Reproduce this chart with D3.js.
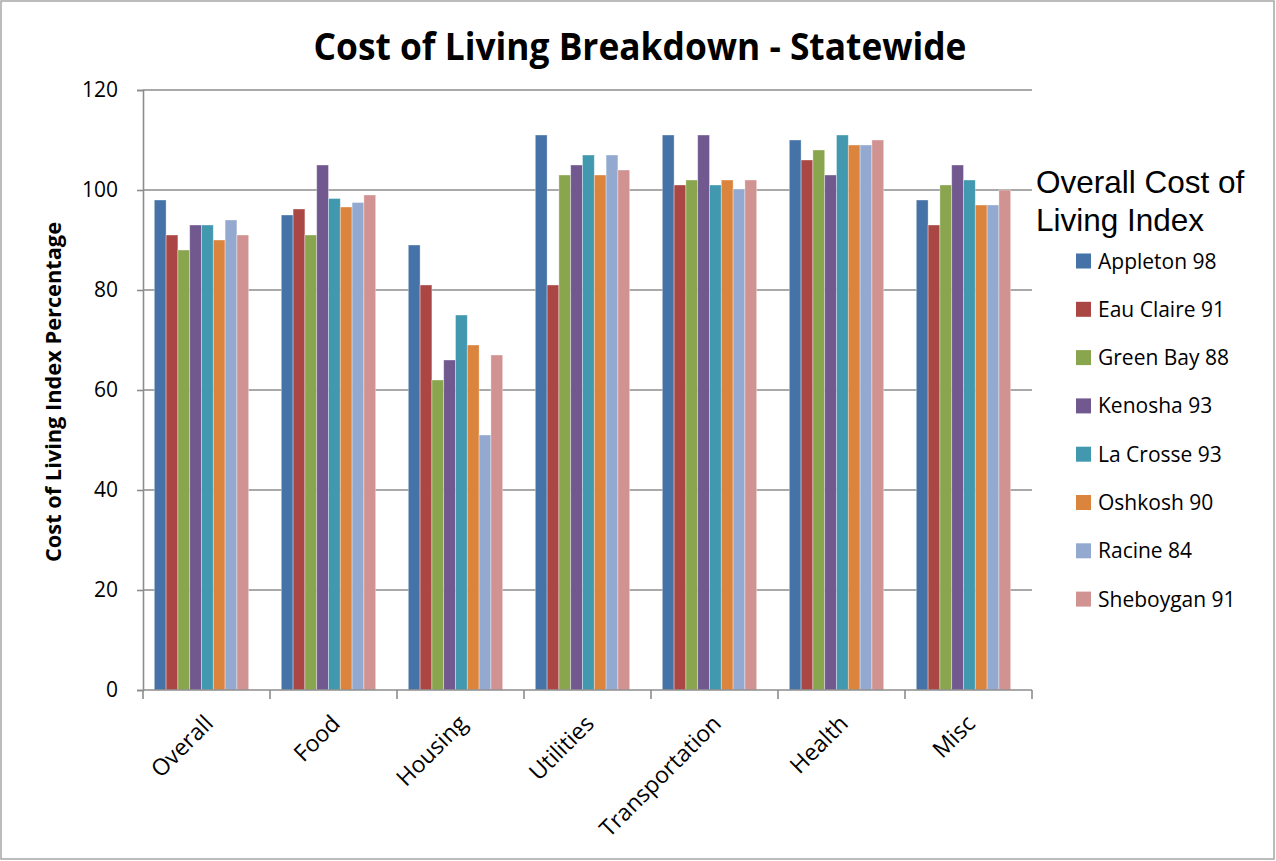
<!DOCTYPE html>
<html>
<head>
<meta charset="utf-8">
<style>
  body { margin: 0; background: #fff; }
  svg { display: block; }
  .os { font-family: "Open Sans", sans-serif; }
</style>
</head>
<body>
<svg width="1276" height="861"></svg>
<script src="https://cdn.jsdelivr.net/npm/d3@7"></script>
<script>

// categories along the x axis
var categories = ["Overall", "Food", "Housing", "Utilities", "Transportation", "Health", "Misc"];

// one series per city, legend label includes overall index
var cities = ["Appleton 98", "Eau Claire 91", "Green Bay 88", "Kenosha 93",
              "La Crosse 93", "Oshkosh 90", "Racine 84", "Sheboygan 91"];

var appleton  = [98, 95, 89, 111, 111, 110, 98];
var eauClaire = [91, 96.2, 81, 81, 101, 106, 93];
var greenBay  = [88, 91, 62, 103, 102, 108, 101];
var kenosha   = [93, 105, 66, 105, 111, 103, 105];
var laCrosse  = [93, 98.3, 75, 107, 101, 111, 102];
var oshkosh   = [90, 96.6, 69, 103, 102, 109, 97];
var racine    = [94, 97.5, 51, 107, 100.2, 109, 97];
var sheboygan = [91, 99, 67, 104, 102, 110, 100];

var yTicks = [0, 20, 40, 60, 80, 100, 120];

var colors = ["#4572A7", "#AA4643", "#89A54E", "#71588F", "#4198AF", "#DB843D", "#93A9CF", "#D19392"];

var series = [appleton, eauClaire, greenBay, kenosha, laCrosse, oshkosh, racine, sheboygan];

var svg = d3.select("svg"),
    width = +svg.attr("width"),
    height = +svg.attr("height");

// outer chart border
svg.append("rect")
    .attr("x", 1).attr("y", 1)
    .attr("width", width - 3).attr("height", height - 3)
    .attr("fill", "#fff")
    .attr("stroke", "#a6a6a6")
    .attr("stroke-width", 1.5);

var plot = { left: 143, right: 1032, top: 90, bottom: 690 };

var x = d3.scaleBand()
    .domain(categories)
    .range([plot.left, plot.right])
    .paddingInner(0).paddingOuter(0);

// bar cluster sits a bit left of centre in each category
var xInner = d3.scaleBand()
    .domain(d3.range(series.length))
    .range([11.3, 105.7]);

var y = d3.scaleLinear()
    .domain([0, 120])
    .range([plot.bottom, plot.top]);

// gridlines
svg.append("g")
    .selectAll("line")
    .data(yTicks.filter(function(d) { return d > 0; }))
    .enter().append("line")
      .attr("x1", plot.left).attr("x2", plot.right)
      .attr("y1", function(d) { return y(d); })
      .attr("y2", function(d) { return y(d); })
      .attr("stroke", "#8c8c8c")
      .attr("stroke-width", 1.6);

// y axis
var yAxis = svg.append("g")
    .attr("transform", "translate(" + plot.left + ",0)")
    .call(d3.axisLeft(y).tickValues(yTicks).tickSize(6).tickPadding(19));
yAxis.select(".domain").attr("stroke", "#8c8c8c").attr("stroke-width", 1.6);
yAxis.selectAll(".tick line").attr("stroke", "#8c8c8c").attr("stroke-width", 1.6);
yAxis.selectAll(".tick text")
    .attr("class", "os")
    .style("font-size", "21px")
    .attr("fill", "#000");

// bars
var groups = svg.append("g")
    .selectAll("g")
    .data(series)
    .enter().append("g")
      .attr("fill", function(d, i) { return colors[i]; });

groups.each(function(vals, si) {
  d3.select(this).selectAll("rect")
    .data(vals)
    .enter().append("rect")
      .attr("x", function(d, ci) { return x(categories[ci]) + xInner(si); })
      .attr("y", function(d) { return y(d); })
      .attr("width", xInner.bandwidth())
      .attr("height", function(d) { return y(0) - y(d); })
      .attr("stroke", "rgba(255,255,255,0.45)")
      .attr("stroke-width", 0.8);
});

// x axis
var xAxisLine = svg.append("g")
    .attr("transform", "translate(0," + plot.bottom + ")");
xAxisLine.append("line")
    .attr("x1", plot.left).attr("x2", plot.right)
    .attr("stroke", "#8c8c8c").attr("stroke-width", 1.6);
xAxisLine.selectAll(".xt")
    .data(categories.concat(["end"]))
    .enter().append("line")
      .attr("class", "xt")
      .attr("x1", function(d, i) { return plot.left + i * x.step(); })
      .attr("x2", function(d, i) { return plot.left + i * x.step(); })
      .attr("y1", 0).attr("y2", 9)
      .attr("stroke", "#8c8c8c").attr("stroke-width", 1.6);

svg.append("g").selectAll("text")
    .data(categories)
    .enter().append("text")
      .attr("class", "os")
      .attr("text-anchor", "end")
      .style("font-size", "23px")
      .attr("transform", function(d) {
        var cx = x(d) + x.bandwidth() / 2 + 8;
        return "translate(" + cx + "," + 725 + ") rotate(-45)";
      })
      .text(function(d) { return d; });

// title
svg.append("text")
    .attr("class", "os")
    .attr("x", 640).attr("y", 60)
    .attr("text-anchor", "middle")
    .style("font-size", "37px")
    .style("font-weight", "bold")
    .attr("textLength", 653)
    .attr("lengthAdjust", "spacingAndGlyphs")
    .text("Cost of Living Breakdown - Statewide");

// y axis title
svg.append("text")
    .attr("class", "os")
    .attr("transform", "translate(61,392) rotate(-90)")
    .attr("text-anchor", "middle")
    .style("font-size", "21px")
    .style("font-weight", "bold")
    .attr("textLength", 340)
    .attr("lengthAdjust", "spacingAndGlyphs")
    .text("Cost of Living Index Percentage");

// legend
var legend = svg.append("g");
legend.append("text")
    .attr("x", 1036).attr("y", 193)
    .style("font-family", "'Liberation Sans', Arial, sans-serif")
    .style("font-size", "31.5px")
    .text("Overall Cost of");
legend.append("text")
    .attr("x", 1036).attr("y", 231)
    .style("font-family", "'Liberation Sans', Arial, sans-serif")
    .style("font-size", "31.5px")
    .text("Living Index");

var item = legend.selectAll(".item")
    .data(cities)
    .enter().append("g")
      .attr("class", "item")
      .attr("transform", function(d, i) { return "translate(1076," + (261 + i * 48.3) + ")"; });
item.append("rect")
    .attr("x", 0).attr("y", -7.5)
    .attr("width", 15).attr("height", 15)
    .attr("fill", function(d, i) { return colors[i]; });
item.append("text")
    .attr("class", "os")
    .attr("x", 22).attr("y", 7.5)
    .style("font-size", "21px")
    .text(function(d) { return d; });

</script>
</body>
</html>
